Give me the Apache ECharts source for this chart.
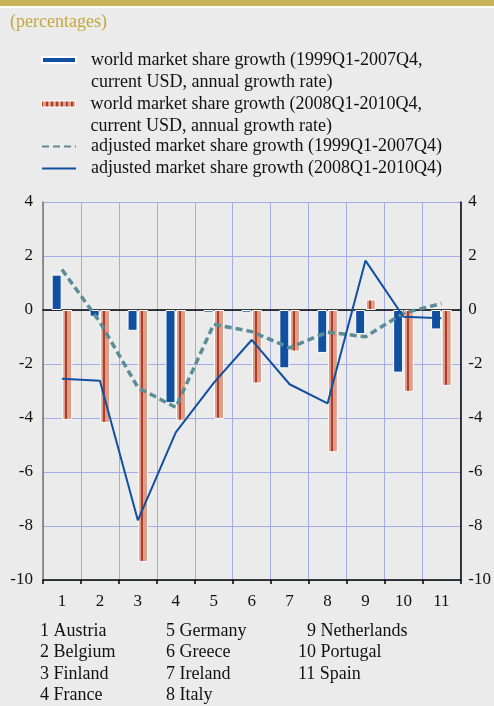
<!DOCTYPE html>
<html>
<head>
<meta charset="utf-8">
<script src="https://cdn.jsdelivr.net/npm/echarts@6/dist/echarts.min.js"></script>
<style>
html,body{margin:0;padding:0;background:#ebebeb;}
#top{position:absolute;left:0;top:0;width:494px;height:6px;background:#c9b45a;border-bottom:2px solid #ffffff;}
#chart{position:absolute;left:0;top:0;width:494px;height:706px;}
</style>
</head>
<body>
<div id="chart"></div>
<div id="top"></div>
<script>
// ---- data ----
const categories = ['1','2','3','4','5','6','7','8','9','10','11'];
const countries = ['Austria','Belgium','Finland','France','Germany','Greece','Ireland','Italy','Netherlands','Portugal','Spain'];
const yTicks = [4, 2, 0, -2, -4, -6, -8, -10];
const seriesNames = [
  'world market share growth (1999Q1-2007Q4,\ncurrent USD, annual growth rate)',
  'world market share growth (2008Q1-2010Q4,\ncurrent USD, annual growth rate)',
  'adjusted market share growth (1999Q1-2007Q4)',
  'adjusted market share growth (2008Q1-2010Q4)'
];
const wms1999 = [1.31, -0.25, -0.77, -3.45, -0.10, -0.10, -2.16, -1.59, -0.89, -2.32, -0.72];
const wms2008 = [-4.07, -4.18, -9.33, -4.10, -4.03, -2.72, -1.54, -5.27, 0.39, -3.03, -2.81];
const adj1999 = [1.50, -0.45, -2.87, -3.61, -0.53, -0.80, -1.40, -0.82, -0.99, -0.12, 0.24];
const adj2008 = [-2.55, -2.62, -7.79, -4.53, -2.70, -1.11, -2.75, -3.46, 1.83, -0.25, -0.31];

const FONT = '"Liberation Serif", "Times New Roman", serif';
const BLUE = '#1150a0';
const TEAL = '#5b8d97';
const SALMON = '#dd9d89';
const DARKRED = '#b03c2a';
const GRIDC = '#a3ace6';

const barStripe = {
  type: 'linear', x: 0, y: 0, x2: 1, y2: 0,
  colorStops: [
    {offset: 0, color: '#e6ada0'}, {offset: 0.12, color: SALMON},
    {offset: 0.3, color: SALMON}, {offset: 0.3, color: DARKRED},
    {offset: 0.5, color: DARKRED}, {offset: 0.5, color: SALMON},
    {offset: 1, color: SALMON}
  ]
};
const legendStops = [];
for (let i = 0; i < 7; i++) {
  const a = i / 7, b = a + 0.045, c = (i + 1) / 7;
  legendStops.push({offset: a, color: DARKRED}, {offset: b, color: DARKRED},
                   {offset: b, color: SALMON}, {offset: c, color: SALMON});
}
const legendStripe = {type: 'linear', x: 0, y: 0, x2: 1, y2: 0, colorStops: legendStops};

const chart = echarts.init(document.getElementById('chart'));

const legendText = {fontFamily: FONT, fontSize: 18, color: '#111', lineHeight: 22, padding: [0, 0, 0, 10]};
const legendCommon = {
  orient: 'vertical', left: 41, padding: 0, itemWidth: 34, itemHeight: 6, itemGap: 0,
  selectedMode: false, textStyle: legendText
};

// bottom country list
const graphics = [];
const colX = [40, 166, 298];
const rowY = [632, 653.5, 675, 696.5];
countries.forEach((c, i) => {
  const col = Math.floor(i / 4), row = i % 4;
  const num = categories[i];
  let x = colX[col];
  if (col === 2 && num.length === 1) x += 9;
  graphics.push({
    type: 'text', left: x, top: rowY[row] - 10,
    style: {text: num + ' ' + c, font: '18px ' + FONT, fill: '#111'}
  });
});
graphics.push({
  type: 'text', left: 10, top: 13,
  style: {text: '(percentages)', font: '18px ' + FONT, fill: '#c5a83c'}
});

const yAxisBase = {
  type: 'value', min: -10, max: 4, interval: 2,
  axisLabel: {fontFamily: FONT, fontSize: 17, color: '#111'},
  axisTick: {show: false}
};
const noSymbol = {opacity: 0};

chart.setOption({
  backgroundColor: '#ebebeb',
  animation: false,
  graphic: graphics,
  legend: [
    Object.assign({}, legendCommon, {top: 27, formatter: n => '\n' + n,
      data: [{name: seriesNames[0], icon: 'rect'}]}),
    Object.assign({}, legendCommon, {top: 71, formatter: n => '\n' + n,
      data: [{name: seriesNames[1], icon: 'rect', itemStyle: {color: legendStripe, borderColor: '#fff', borderWidth: 1}}]}),
    Object.assign({}, legendCommon, {top: 135.5,
      data: [{name: seriesNames[2], itemStyle: noSymbol}, {name: seriesNames[3], itemStyle: noSymbol}]})
  ],
  grid: {left: 43, right: 32, top: 202, bottom: 126, containLabel: false},
  xAxis: [
    {
      type: 'category', data: categories, boundaryGap: true,
      axisLine: {onZero: false, lineStyle: {color: '#000', width: 1.5}},
      axisTick: {show: true, length: 4, lineStyle: {color: '#000', width: 1.5}},
      axisLabel: {fontFamily: FONT, fontSize: 17, color: '#111', margin: 13},
      splitLine: {show: true, interval: 0, lineStyle: {color: GRIDC, width: 1}}
    },
    {
      type: 'category', data: categories, boundaryGap: true, position: 'bottom',
      axisLine: {onZero: true, lineStyle: {color: '#000', width: 1.5}},
      axisTick: {show: false}, axisLabel: {show: false}, splitLine: {show: false}
    }
  ],
  yAxis: [
    Object.assign({}, yAxisBase, {
      position: 'left',
      axisLine: {show: true, lineStyle: {color: '#777', width: 1.5}},
      axisLabel: Object.assign({}, yAxisBase.axisLabel, {margin: 10}),
      splitLine: {show: true, lineStyle: {color: GRIDC, width: 1}}
    }),
    Object.assign({}, yAxisBase, {
      position: 'right',
      axisLine: {show: true, lineStyle: {color: '#000', width: 1.5}},
      axisLabel: Object.assign({}, yAxisBase.axisLabel, {margin: 8}),
      splitLine: {show: false}
    })
  ],
  series: [
    {
      name: seriesNames[0], type: 'bar', data: wms1999, barWidth: 10, barGap: '6%',
      itemStyle: {color: BLUE, borderColor: '#fff', borderWidth: 1}, z: 3
    },
    {
      name: seriesNames[1], type: 'bar', data: wms2008, barWidth: 10,
      itemStyle: {color: barStripe, borderColor: '#fff', borderWidth: 1}, z: 3
    },
    {
      name: seriesNames[2], type: 'line', data: adj1999, symbol: 'none', z: 4,
      lineStyle: {color: TEAL, width: 3.5, type: [7, 4]}, itemStyle: {color: TEAL}
    },
    {
      name: seriesNames[3], type: 'line', data: adj2008, symbol: 'none', z: 5,
      lineStyle: {color: BLUE, width: 2}, itemStyle: {color: BLUE}
    }
  ]
});
</script>
</body>
</html>
